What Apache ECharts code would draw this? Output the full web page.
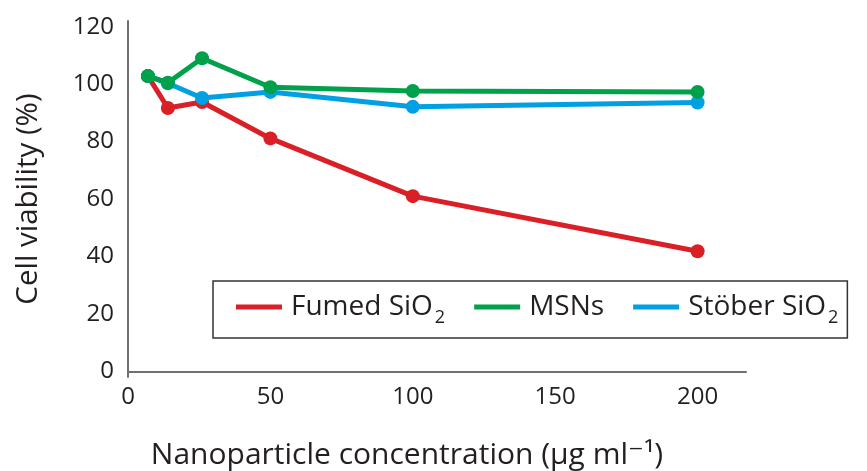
<!DOCTYPE html>
<html>
<head>
<meta charset="utf-8">
<script src="https://cdn.jsdelivr.net/npm/echarts@6/dist/echarts.min.js"></script>
<style>
html,body{margin:0;padding:0;background:#fff;}
#chart{width:867px;height:471px;}
</style>
</head>
<body>
<div id="chart"></div>
<script>
// Concentrations (µg/ml)
const concentrations = [7, 14, 26, 50, 100, 200];
// Cell viability (%)
const fumedSiO2 = [102.8, 91.7, 93.8, 81.1, 61.0, 41.8];
const msns      = [102.8, 100.5, 109.0, 98.9, 97.6, 97.3];
const stoberSiO2= [102.8, 100.3, 95.2, 97.3, 92.1, 93.6];
const seriesNames = ['Fumed SiO2', 'MSNs', 'Stöber SiO2'];
const yTicks = [0, 20, 40, 60, 80, 100, 120];
const xTicks = [0, 50, 100, 150, 200];

const colors = ['#da1f26', '#00a14b', '#00a0e3'];
const FONT = '"Open Sans", "DejaVu Sans", sans-serif';
const TXT = '#231f20';

function pairs(vals){ return concentrations.map((c,i)=>[c, vals[i]]); }

const chart = echarts.init(document.getElementById('chart'));
const mk = (name, vals, color, z) => ({
  name, type:'line', data: pairs(vals), z,
  symbol:'circle', symbolSize:14,
  lineStyle:{color, width:5},
  itemStyle:{color},
  emphasis:{disabled:true},
  animation:false
});
chart.setOption({
  animation:false,
  grid:{left:128, right:121, top:21, bottom:94, containLabel:false, outerBoundsMode:'none'},
  xAxis:{
    type:'value', min:0, max:217,
    name:'Nanoparticle concentration (μg ml⁻¹)',
    nameLocation:'middle', nameGap:63,
    nameTextStyle:{fontFamily:FONT, fontSize:30, color:TXT, padding:[0,60,0,0]},
    axisLine:{show:true, lineStyle:{color:'#707070', width:2}},
    axisTick:{show:false},
    splitLine:{show:false},
    axisLabel:{customValues:xTicks, fontFamily:FONT, fontSize:24, color:TXT, margin:8}
  },
  yAxis:{
    type:'value', min:-2, max:122,
    name:'Cell viability (%)',
    nameLocation:'middle', nameGap:84, nameRotate:90,
    nameTextStyle:{fontFamily:FONT, fontSize:29.5, color:TXT},
    axisLine:{show:true, lineStyle:{color:'#707070', width:2}},
    axisTick:{show:false},
    splitLine:{show:false},
    axisLabel:{customValues:yTicks, fontFamily:FONT, fontSize:24, color:TXT, margin:14}
  },
  legend:{
    data: seriesNames,
    left:213, top:281,
    orient:'horizontal',
    borderColor:'#333', borderWidth:1.5,
    padding:[12, 9, 11, 23],
    itemGap:29,
    itemWidth:46, itemHeight:5,
    icon:'rect',
    formatter: function(n){
      if (n.endsWith('SiO2')) return '{n|' + n.slice(0,-1) + '}{s|2}';
      return '{n|' + n + '}';
    },
    textStyle:{
      fontFamily:FONT, fontSize:28, color:TXT,
      rich:{
        n:{fontFamily:FONT, fontSize:28, color:TXT, padding:[6,0,6,4]},
        s:{fontFamily:FONT, fontSize:18, color:TXT, lineHeight:16, verticalAlign:'bottom', padding:[0,0,0,2]}
      }
    },
    selectedMode:false
  },
  series:[
    mk(seriesNames[0], fumedSiO2, colors[0], 2),
    mk(seriesNames[1], msns, colors[1], 4),
    mk(seriesNames[2], stoberSiO2, colors[2], 3)
  ]
});
</script>
</body>
</html>
